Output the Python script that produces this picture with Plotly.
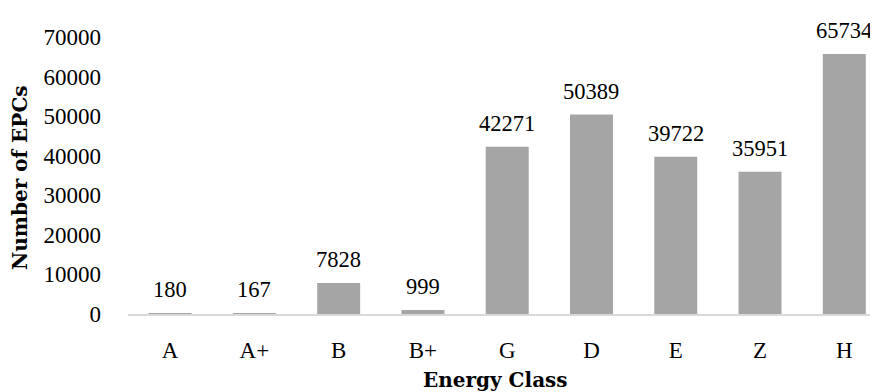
import plotly.graph_objects as go

categories = ["A", "A+", "B", "B+", "G", "D", "E", "Z", "H"]
counts = [180, 167, 7828, 999, 42271, 50389, 39722, 35951, 65734]
y_ticks = [0, 10000, 20000, 30000, 40000, 50000, 60000, 70000]
y_tick_text = [str(v) for v in y_ticks]

FONT = "Liberation Serif"
TITLE_FONT = "DejaVu Serif"

fig = go.Figure(go.Bar(
    x=categories, y=counts,
    marker=dict(color="#a5a5a5", line=dict(width=0)),
    cliponaxis=False, width=0.51,
))

# value labels above bars
label_annotations = [
    dict(x=c, y=v, xref="x", yref="y", text=str(v), showarrow=False,
         xanchor="center", yanchor="bottom", yshift=9,
         font=dict(family=FONT, size=22.5, color="#000000"))
    for c, v in zip(categories, counts)
]

# page body has an 8px margin; figure is sized to fill the rest of the window
fig.update_layout(
    width=870, height=384,
    margin=dict(l=120, r=0, t=29, b=78, autoexpand=False),
    paper_bgcolor="white", plot_bgcolor="white",
    font=dict(family=FONT, size=23, color="#000000"),
    showlegend=False,
    xaxis=dict(range=[-0.5, 8.40], showgrid=False, showline=True,
               linecolor="#d9d9d9", linewidth=2, ticks="", zeroline=False,
               tickfont=dict(family=FONT, size=23), ticklabelstandoff=14),
    yaxis=dict(range=[0, 70000], tickvals=y_ticks, ticktext=y_tick_text,
               showgrid=False, showline=False, zeroline=False, ticks="",
               tickfont=dict(family=FONT, size=23), ticklabelstandoff=26),
    annotations=label_annotations + [
        dict(text="<b>Energy Class</b>", xref="paper", yref="paper",
             x=(487 - 120) / 750, y=-(372 - 306) / 277, xanchor="center",
             yanchor="middle", showarrow=False,
             font=dict(family=TITLE_FONT, size=20)),
        dict(text="<b>Number of EPCs</b>", xref="paper", yref="paper",
             x=-(120 - 12) / 750, y=(306 - 170) / 277, xanchor="center",
             yanchor="middle", textangle=-90, showarrow=False,
             font=dict(family=TITLE_FONT, size=20)),
    ],
)

fig.write_html("out.html")
